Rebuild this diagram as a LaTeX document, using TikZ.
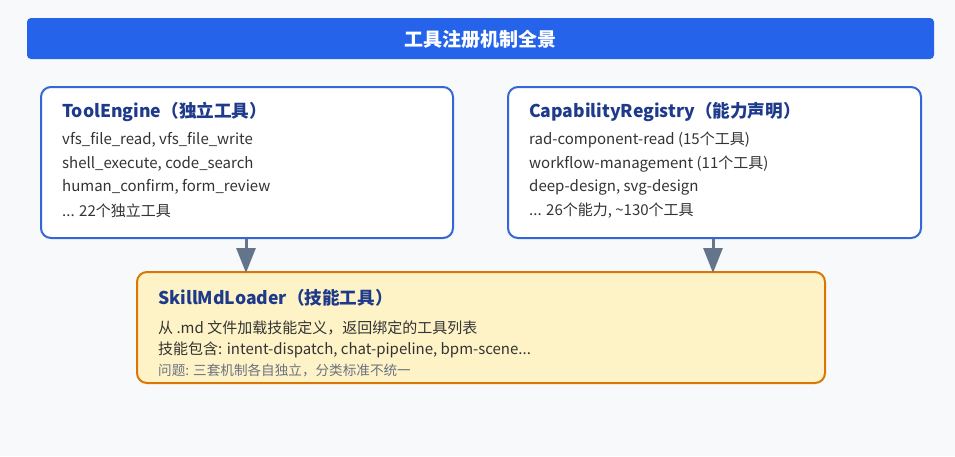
\documentclass[tikz,border=0pt]{standalone}
\usepackage{fontspec}
\setmainfont{Noto Sans CJK SC}
\usetikzlibrary{arrows.meta}
\definecolor{bg}{HTML}{F8F9FA}
\definecolor{titleblue}{HTML}{2563EB}
\definecolor{boxblue}{HTML}{3366D6}
\definecolor{headblue}{HTML}{1E3A8A}
\definecolor{bodytext}{HTML}{333333}
\definecolor{yfill}{HTML}{FEF3C7}
\definecolor{yborder}{HTML}{D97706}
\definecolor{arrowgray}{HTML}{64748B}
\definecolor{notegray}{HTML}{6B7280}
\tikzset{
  x=1pt, y=-1pt,
  panel/.style={draw=boxblue, line width=2pt, fill=white, rounded corners=10pt},
  ypanel/.style={draw=yborder, line width=2pt, fill=yfill, rounded corners=10pt},
  head/.style={anchor=west, text=headblue, font=\fontsize{17.6}{20}\selectfont\bfseries, inner sep=0pt},
  body/.style={anchor=west, text=bodytext, font=\fontsize{15}{18}\selectfont, inner sep=0pt},
  note/.style={anchor=west, text=notegray, font=\fontsize{13.6}{16}\selectfont, inner sep=0pt},
  conn/.style={draw=arrowgray, line width=3pt, -{Triangle[length=25pt,width=19pt]}}
}
\begin{document}
\begin{tikzpicture}
\fill[bg] (0,0) rectangle (955,456);
\useasboundingbox (0,0) rectangle (955,456);
% title
\fill[titleblue, rounded corners=4pt] (27,18) rectangle (934,59);
\node[text=white, font=\fontsize{19}{22}\selectfont\bfseries, inner sep=0pt] (title) at (480.5,39) {工具注册机制全景};
% left box
\draw[panel] (41,87) rectangle (453,238);
\coordinate (lb) at (246,239);
\node[head] (lh) at (62,112) {ToolEngine（独立工具）};
\node[body] (l1) at (62,140) {vfs\_file\_read, vfs\_file\_write};
\node[body] (l2) at (62,164) {shell\_execute, code\_search};
\node[body] (l3) at (62,187) {human\_confirm, form\_review};
\node[body] (l4) at (62,211) {... 22个独立工具};
% right box
\draw[panel] (508,87) rectangle (921,238);
\coordinate (rb) at (713,239);
\node[head] (rh) at (529,112) {CapabilityRegistry（能力声明）};
\node[body] (r1) at (529,140) {rad-component-read (15个工具)};
\node[body] (r2) at (529,164) {workflow-management (11个工具)};
\node[body] (r3) at (529,187) {deep-design, svg-design};
\node[body] (r4) at (529,211) {... 26个能力, \textasciitilde130个工具};
% bottom box
\draw[ypanel] (137,272) rectangle (825,383);
\coordinate (bl) at (246,273);
\coordinate (br) at (713,273);
\node[head] (bh) at (158,298) {SkillMdLoader（技能工具）};
\node[body] (b1) at (158,328) {从 .md 文件加载技能定义，返回绑定的工具列表};
\node[body] (b2) at (158,350) {技能包含: intent-dispatch, chat-pipeline, bpm-scene...};
\node[note] (b3) at (158,370) {问题: 三套机制各自独立，分类标准不统一};
% arrows
\draw[conn] (lb) -- (bl);
\draw[conn] (rb) -- (br);
\end{tikzpicture}
\end{document}
